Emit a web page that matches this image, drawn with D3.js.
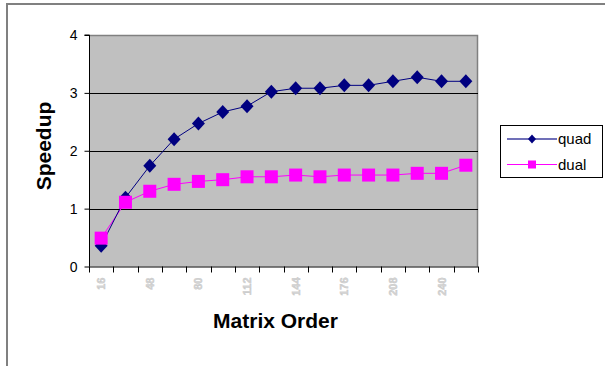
<!DOCTYPE html>
<html>
<head>
<meta charset="utf-8">
<script src="https://cdn.jsdelivr.net/npm/d3@7"></script>
<style>
  html, body { margin: 0; padding: 0; background: #fff; }
  svg { display: block; font-family: "Liberation Sans", Arial, sans-serif; }
</style>
</head>
<body>
<svg id="chart" width="605" height="366"></svg>
<script>
// Matrix orders measured (x categories)
const orders = [16, 32, 48, 64, 80, 96, 112, 128, 144, 160, 176, 192, 208, 224, 240, 256];
// Speedup of the quad-core run
const quad = [0.36, 1.19, 1.74, 2.20, 2.47, 2.67, 2.77, 3.02, 3.08, 3.08, 3.13, 3.13, 3.20, 3.27, 3.20, 3.20];
// Speedup of the dual-core run
const dual = [0.49, 1.11, 1.30, 1.42, 1.47, 1.50, 1.55, 1.55, 1.58, 1.55, 1.58, 1.58, 1.58, 1.61, 1.61, 1.75];
// Every other order gets a label
const xTickLabels = [16, 48, 80, 112, 144, 176, 208, 240];
const yTicks = [0, 1, 2, 3, 4];

const svg = d3.select("#chart");

// outer chart frame
svg.append("path")
  .attr("d", "M7,366 V4 H605")
  .attr("fill", "none").attr("stroke", "#808080").attr("stroke-width", 2);

const plot = { left: 89, right: 478, top: 35, bottom: 266.5 };

const x = d3.scaleBand().domain(orders).range([plot.left, plot.right]).padding(0);
const y = d3.scaleLinear().domain([0, 4]).range([plot.bottom, plot.top]);

// plot background
svg.append("rect")
  .attr("x", plot.left).attr("y", plot.top)
  .attr("width", plot.right - plot.left).attr("height", plot.bottom - plot.top)
  .attr("fill", "#c0c0c0");

// top & right edges of the plot area
svg.append("path")
  .attr("d", `M${plot.left},${plot.top + 0.5} H${plot.right - 0.5} V${plot.bottom}`)
  .attr("fill", "none").attr("stroke", "#808080").attr("stroke-width", 1.5);

// horizontal gridlines
svg.append("g").selectAll("line")
  .data(yTicks.filter(d => d > 0 && d < 4))
  .join("line")
  .attr("x1", plot.left).attr("x2", plot.right)
  .attr("y1", d => Math.round(y(d)) + 0.5).attr("y2", d => Math.round(y(d)) + 0.5)
  .attr("stroke", "#000").attr("stroke-width", 1);

// y axis
const yAxis = d3.axisLeft(y).tickValues(yTicks).tickSize(5).tickPadding(7).tickFormat(d3.format("d"));
const gy = svg.append("g").attr("transform", `translate(${plot.left + 0.5},0)`).call(yAxis);
gy.select(".domain").attr("stroke", "#000").attr("d", `M-5,${plot.top}H0V${plot.bottom}`);
gy.selectAll(".tick line").attr("stroke", "#000");
gy.selectAll(".tick text")
  .attr("font-family", "'Liberation Sans', Arial, sans-serif")
  .attr("font-size", 14).attr("fill", "#000").attr("dy", "0.35em");

// x axis: ticks on band boundaries
const boundaries = orders.map(d => x(d)).concat([plot.right]);
const gx = svg.append("g");
gx.append("line")
  .attr("x1", plot.left).attr("x2", plot.right)
  .attr("y1", plot.bottom + 0.5).attr("y2", plot.bottom + 0.5)
  .attr("stroke", "#000");
gx.selectAll("line.tick")
  .data(boundaries)
  .join("line").attr("class", "tick")
  .attr("x1", d => Math.round(d) + 0.5).attr("x2", d => Math.round(d) + 0.5)
  .attr("y1", plot.bottom).attr("y2", plot.bottom + 6)
  .attr("stroke", "#000");

// rotated category labels
gx.selectAll("text")
  .data(xTickLabels)
  .join("text")
  .attr("transform", d => `translate(${x(d) + x.bandwidth() / 2 + 4},${plot.bottom + 11}) rotate(-90)`)
  .attr("text-anchor", "end")
  .attr("font-size", 11).attr("font-weight", "bold")
  .attr("fill", "#d4d4d4")
  .attr("stroke", "#c4c4c4").attr("stroke-width", 0.4)
  .text(d => d);

const cx = (d, i) => x(orders[i]) + x.bandwidth() / 2;

// dual series
const lineGen = d3.line().x((d, i) => cx(d, i)).y(d => y(d));
svg.append("path").datum(dual)
  .attr("d", lineGen).attr("fill", "none").attr("stroke", "#ff00ff").attr("stroke-width", 1);

// quad series
svg.append("path").datum(quad)
  .attr("d", lineGen).attr("fill", "none").attr("stroke", "#000080").attr("stroke-width", 1);

// diamond marker shape
const diamond = (w, h) => `M0,${-h / 2}L${w / 2},0L0,${h / 2}L${-w / 2},0Z`;

svg.append("g").selectAll("path")
  .data(quad)
  .join("path")
  .attr("transform", (d, i) => `translate(${cx(d, i)},${y(d)})`)
  .attr("d", diamond(13, 14))
  .attr("fill", "#000080");

const sq = 13;
svg.append("g").selectAll("rect")
  .data(dual)
  .join("rect")
  .attr("x", (d, i) => cx(d, i) - sq / 2)
  .attr("y", d => y(d) - sq / 2)
  .attr("width", sq).attr("height", sq)
  .attr("fill", "#ff00ff");

// axis titles
svg.append("text")
  .attr("x", 275.5).attr("y", 327.5)
  .attr("text-anchor", "middle")
  .attr("font-size", 21).attr("font-weight", "bold")
  .text("Matrix Order");

svg.append("text")
  .attr("transform", "translate(51,146) rotate(-90)")
  .attr("text-anchor", "middle")
  .attr("font-size", 21).attr("font-weight", "bold")
  .text("Speedup");

// legend
const lg = svg.append("g");
lg.append("rect")
  .attr("x", 500.5).attr("y", 125.5).attr("width", 102).attr("height", 52)
  .attr("fill", "#fff").attr("stroke", "#000").attr("stroke-width", 1);

const legendItems = [
  { name: "quad", color: "#000080", lineColor: "#7070b8", lw: 2, y: 139 },
  { name: "dual", color: "#ff00ff", lineColor: "#ff00ff", lw: 1, y: 164.5 }
];
legendItems.forEach(it => {
  lg.append("line")
    .attr("x1", 507).attr("x2", 557).attr("y1", it.y).attr("y2", it.y)
    .attr("stroke", it.lineColor).attr("stroke-width", it.lw);
  if (it.name === "quad") {
    lg.append("path").attr("transform", `translate(532,${it.y})`)
      .attr("d", diamond(8, 9)).attr("fill", it.color);
  } else {
    lg.append("rect").attr("x", 528).attr("y", it.y - 4).attr("width", 8).attr("height", 8)
      .attr("fill", it.color);
  }
  lg.append("text")
    .attr("x", 558).attr("y", it.y).attr("dy", "0.35em")
    .attr("font-size", 15).attr("fill", "#000")
    .text(it.name);
});
</script>
</body>
</html>
